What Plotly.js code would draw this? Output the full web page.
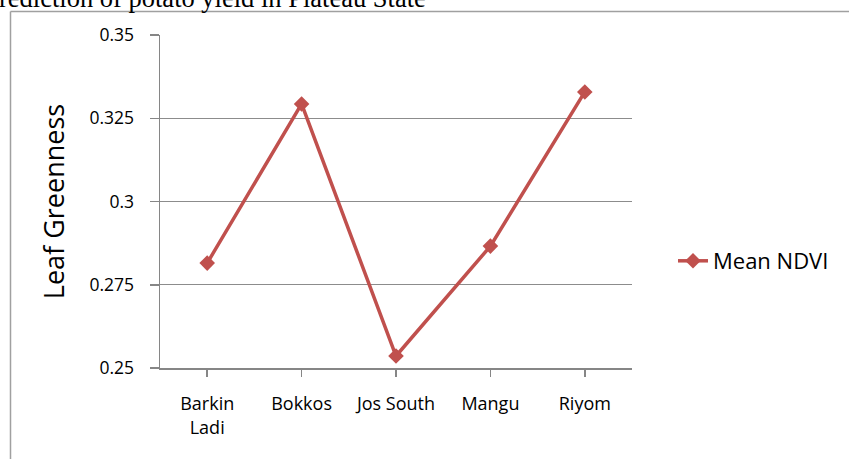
<!DOCTYPE html>
<html>
<head>
<meta charset="utf-8">
<script src="https://cdn.plot.ly/plotly-3.0.1.min.js"></script>
<style>html,body{margin:0;padding:0;background:#fff;}#chart{width:849px;height:459px;}</style>
</head>
<body>
<div id="chart"></div>
<script>
const categories = ["Barkin<br>Ladi", "Bokkos", "Jos South", "Mangu", "Riyom"];
const meanNdvi = [0.2815, 0.3293, 0.2536, 0.2866, 0.3329];
const yTicks = [0.25, 0.275, 0.3, 0.325, 0.35];
const yTickLabels = ["0.25", "0.275", "0.3", "0.325", "0.35"];
const seriesName = "Mean NDVI";
const yTitle = "Leaf Greenness";
const pageText = "rediction of potato yield in Plateau State";

const W = 849, H = 459, L = 160, R = 217, T = 35, B = 91;
const pw = W - L - R, ph = H - T - B;
const px = v => (v - L) / pw;
const py = v => 1 - (v - T) / ph;
const FONT = '"Open Sans", Lato, sans-serif';

const trace = {
  x: categories.map((c, i) => i),
  y: meanNdvi,
  type: 'scatter',
  mode: 'lines+markers',
  name: seriesName,
  line: {color: '#C0504D', width: 3.5},
  marker: {symbol: 'diamond', size: 12, color: '#C0504D'}
};

const layout = {
  width: W, height: H,
  margin: {l: L, r: R, t: T, b: B, pad: 0},
  paper_bgcolor: '#fff', plot_bgcolor: '#fff',
  font: {family: FONT, color: '#000'},
  showlegend: true,
  legend: {x: px(673), y: py(261), xanchor: 'left', yanchor: 'middle',
    font: {size: 22, family: FONT}, bgcolor: 'rgba(0,0,0,0)'},
  xaxis: {
    range: [-0.5, 4.5],
    tickmode: 'array', tickvals: [0, 1, 2, 3, 4], ticktext: categories,
    tickson: 'boundaries', ticks: 'outside', ticklen: 7, tickcolor: '#868686', tickwidth: 1.5,
    showline: true, linecolor: '#868686', linewidth: 1.5,
    showgrid: false, zeroline: false,
    tickfont: {size: 18}, ticklabelstandoff: 12, fixedrange: true
  },
  yaxis: {
    range: [0.25, 0.35],
    tickmode: 'array', tickvals: yTicks, ticktext: yTickLabels,
    ticks: 'outside', ticklen: 9, tickcolor: '#868686', tickwidth: 1.5,
    showline: true, linecolor: '#868686', linewidth: 1.5,
    showgrid: true, gridcolor: '#8c8c8c', gridwidth: 1.3,
    zeroline: false, tickfont: {size: 17.5}, ticklabelstandoff: 12,
    title: {text: yTitle, font: {size: 27}, standoff: 17}, fixedrange: true
  },
  shapes: [
    {type: 'line', xref: 'paper', yref: 'paper', x0: px(10.5), x1: px(860), y0: py(11.5), y1: py(11.5), line: {color: '#a0a0a0', width: 1.5}},
    {type: 'line', xref: 'paper', yref: 'paper', x0: px(10.5), x1: px(10.5), y0: py(11.5), y1: py(470), line: {color: '#a0a0a0', width: 1.5}}
  ],
  annotations: [
    {text: pageText, xref: 'paper', yref: 'paper', x: px(-3), y: py(15), xanchor: 'left', yanchor: 'bottom',
     showarrow: false, font: {family: '"Liberation Serif", "Times New Roman", serif', size: 26.5, color: '#000'}}
  ]
};

Plotly.newPlot('chart', [trace], layout, {displayModeBar: false, staticPlot: true});
</script>
</body>
</html>
